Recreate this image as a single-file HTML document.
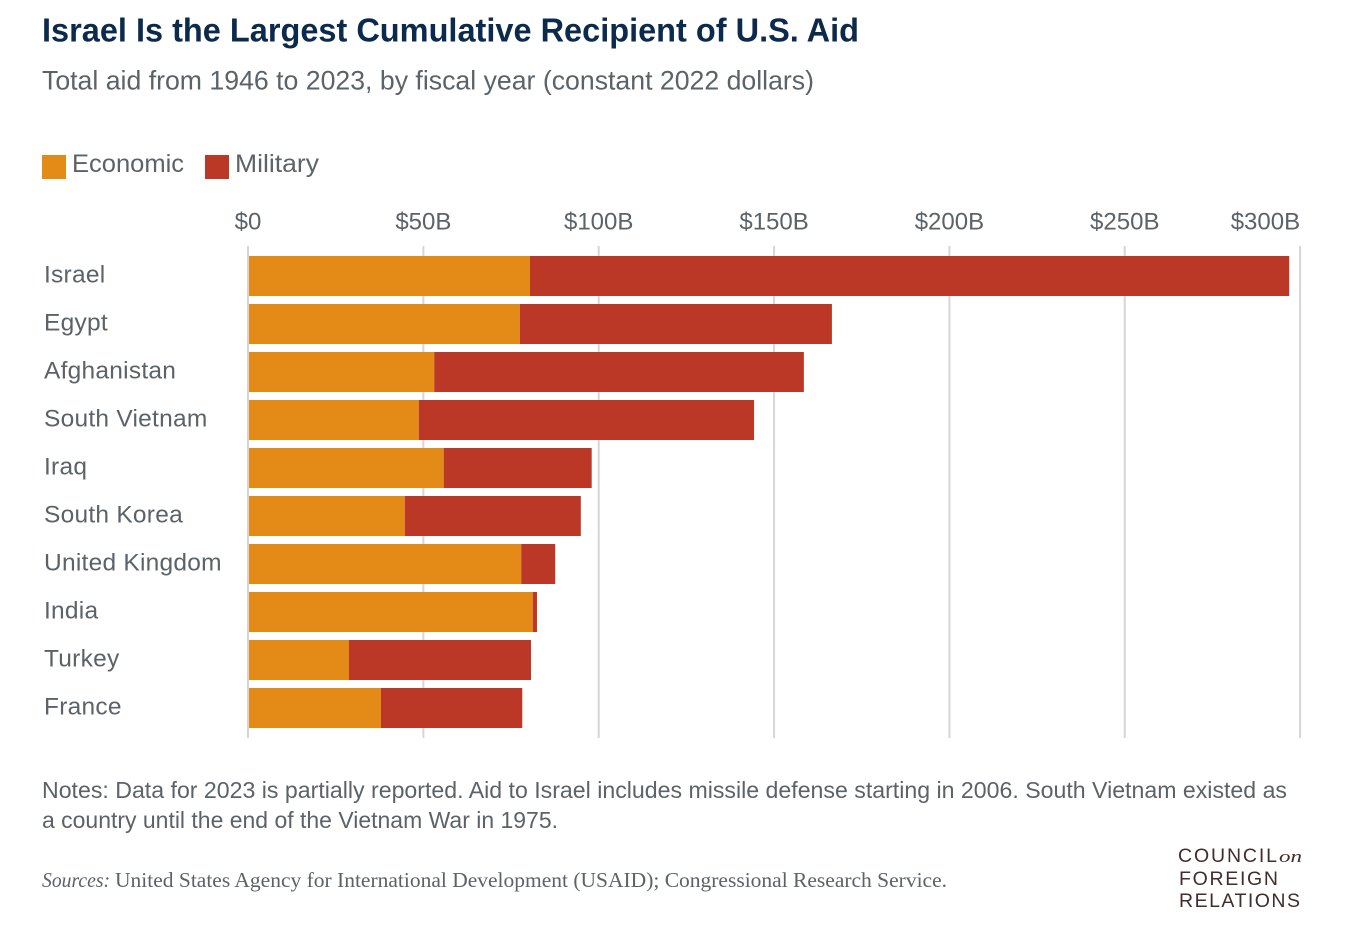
<!DOCTYPE html>
<html lang="en">
<head>
<meta charset="utf-8">
<title>Israel Is the Largest Cumulative Recipient of U.S. Aid</title>
<style>
html,body{margin:0;padding:0;background:#fff;width:1352px;height:930px;overflow:hidden}
svg{display:block}
text{font-family:"Liberation Sans",sans-serif;fill:#5b6369}
.tick{font-size:24px}
.cat{font-size:24.5px;letter-spacing:.25px}
</style>
</head>
<body>
<svg id="chart" width="1352" height="930" viewBox="0 0 1352 930" xmlns="http://www.w3.org/2000/svg">
  <text x="42" y="41.5" font-size="33px" font-weight="700" style="fill:#0b2a4c" textLength="817" lengthAdjust="spacingAndGlyphs">Israel Is the Largest Cumulative Recipient of U.S. Aid</text>
  <text x="42" y="89.5" font-size="26.5px" textLength="772" lengthAdjust="spacingAndGlyphs">Total aid from 1946 to 2023, by fiscal year (constant 2022 dollars)</text>

  <g>
    <rect x="42" y="155" width="24" height="24" fill="#e48b17"/>
    <text x="72" y="172" font-size="25px" textLength="112" lengthAdjust="spacingAndGlyphs">Economic</text>
    <rect x="205" y="155" width="24" height="24" fill="#ba3825"/>
    <text x="235" y="172" font-size="25px" textLength="84" lengthAdjust="spacingAndGlyphs">Military</text>
  </g>

  <g id="grid"></g>
  <g id="ticks"></g>
  <g id="bars"></g>
  <g id="cats"></g>

  <g>
    <text x="42" y="798" font-size="23.5px" textLength="1245" lengthAdjust="spacingAndGlyphs">Notes: Data for 2023 is partially reported. Aid to Israel includes missile defense starting in 2006. South Vietnam existed as</text>
    <text x="42" y="828" font-size="23.5px" textLength="516" lengthAdjust="spacingAndGlyphs">a country until the end of the Vietnam War in 1975.</text>
  </g>
  <g style="font-size:21px">
    <text x="42" y="887" font-style="italic" textLength="68" lengthAdjust="spacingAndGlyphs" style="font-family:'Liberation Serif',serif">Sources:</text>
    <text x="115" y="887" textLength="832" lengthAdjust="spacingAndGlyphs" style="font-family:'Liberation Serif',serif">United States Agency for International Development (USAID); Congressional Research Service.</text>
  </g>

  <g style="font-size:19.5px">
    <text x="1178" y="862" style="fill:#3f2e2c" textLength="99" lengthAdjust="spacing">COUNCIL</text>
    <text x="1279" y="862" style="fill:#3f2e2c;font-family:'Liberation Serif',serif;font-style:italic;font-size:17px" textLength="23" lengthAdjust="spacingAndGlyphs">on</text>
    <text x="1179" y="885" style="fill:#3f2e2c" textLength="99" lengthAdjust="spacing">FOREIGN</text>
    <text x="1179" y="907" style="fill:#3f2e2c" textLength="121" lengthAdjust="spacing">RELATIONS</text>
  </g>
</svg>
<script>
const countries = ["Israel","Egypt","Afghanistan","South Vietnam","Iraq","South Korea","United Kingdom","India","Turkey","France"];
const economic = [80.4,77.5,53.1,48.7,55.8,44.7,77.9,81.2,28.8,37.9];
const military = [216.5,89.0,105.4,95.6,42.2,50.2,9.7,1.2,51.9,40.3];
const tickValues = [0,50,100,150,200,250,300];
const tickLabels = ["$0","$50B","$100B","$150B","$200B","$250B","$300B"];

const NS = "http://www.w3.org/2000/svg";
const xZero = 248, xScale = 3.507;
const rowTop = 256, rowStep = 48, barHeight = 40;
function x(v){ return xZero + v * xScale; }
function y(i){ return rowTop + i * rowStep; }

const gridG = document.getElementById("grid");
const ticksG = document.getElementById("ticks");
const barsG = document.getElementById("bars");
const catsG = document.getElementById("cats");

tickValues.forEach(function(v, i){
  const line = document.createElementNS(NS, "rect");
  
  
  line.setAttribute("x", x(v) - 1);
  line.setAttribute("y", 246);
  line.setAttribute("width", 2);
  line.setAttribute("height", 492);
  line.setAttribute("fill", "#d6d6d6");
  gridG.appendChild(line);

  const t = document.createElementNS(NS, "text");
  
  
  const last = i === tickValues.length - 1;
  t.setAttribute("x", x(v));
  t.setAttribute("y", 229.5);
  t.setAttribute("text-anchor", last ? "end" : "middle");
  t.setAttribute("class", "tick");
  t.textContent = tickLabels[i];
  ticksG.appendChild(t);
});

countries.forEach(function(name, i){
  const e = document.createElementNS(NS, "rect");
  
  
  e.setAttribute("x", x(0) + 1);
  e.setAttribute("y", y(i));
  e.setAttribute("width", x(economic[i]) - x(0) - 1);
  e.setAttribute("height", barHeight);
  e.setAttribute("fill", "#e48b17");
  barsG.appendChild(e);

  const m = document.createElementNS(NS, "rect");
  
  
  m.setAttribute("x", x(economic[i]));
  m.setAttribute("y", y(i));
  m.setAttribute("width", x(economic[i] + military[i]) - x(economic[i]));
  m.setAttribute("height", barHeight);
  m.setAttribute("fill", "#ba3825");
  barsG.appendChild(m);

  const c = document.createElementNS(NS, "text");
  
  
  c.setAttribute("x", 44);
  c.setAttribute("y", y(i) + 26.5);
  c.setAttribute("class", "cat");
  c.textContent = name;
  catsG.appendChild(c);
});
</script>
</body>
</html>
